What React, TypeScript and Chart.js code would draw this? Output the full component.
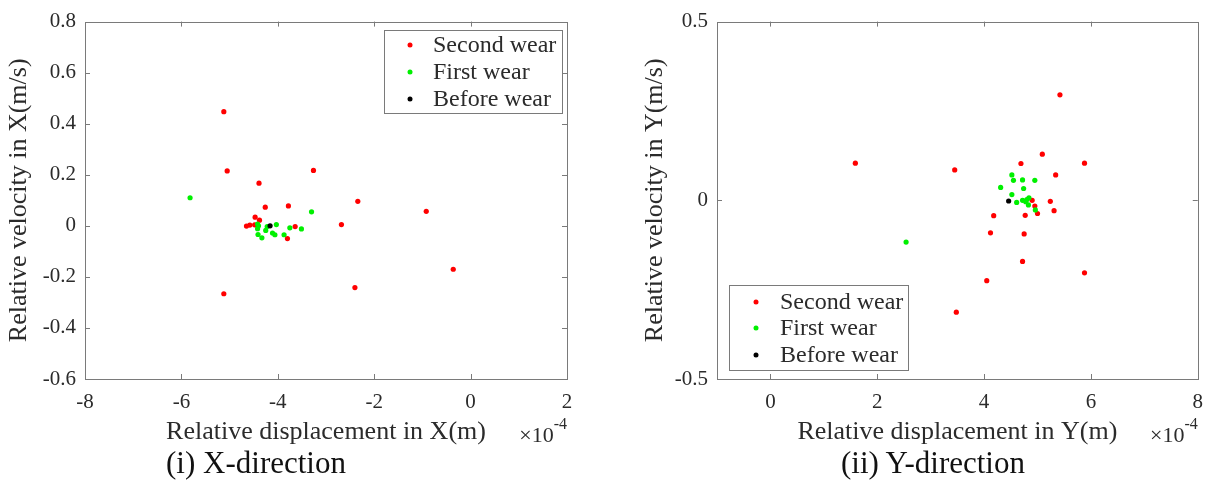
import React, { useEffect, useRef } from "react";
import { Chart, registerables } from "chart.js";

Chart.register(...registerables);

// ---------- Data (displacement in ×10^-4 m, velocity in m/s) ----------
const SERIES_LABELS = ["Second wear", "First wear", "Before wear"];
const SERIES_COLORS = ["#ff0000", "#00f000", "#000000"];

// (i) X-direction
const X_SECOND_DISP = [-5.12, -5.05, -3.26, -4.39, -2.34, -4.26, -3.78, -4.47, -4.38, -4.65, -4.58, -4.48, -3.64, -3.8, -2.68, -5.12, -2.4, -0.92, -0.36];
const X_SECOND_VEL = [0.447, 0.215, 0.217, 0.167, 0.096, 0.073, 0.078, 0.034, 0.022, -0.001, 0.003, 0.004, -0.003, -0.05, 0.005, -0.266, -0.242, 0.057, -0.17];
const X_FIRST_DISP = [-5.82, -3.3, -4.42, -4.4, -4.42, -4.22, -4.25, -4.03, -3.75, -3.51, -4.41, -4.33, -4.11, -4.06, -3.87];
const X_FIRST_VEL = [0.11, 0.055, 0.007, 0.0, -0.011, -0.003, -0.018, 0.005, -0.008, -0.012, -0.034, -0.047, -0.028, -0.035, -0.035];
const X_BEFORE_DISP = [-4.16];
const X_BEFORE_VEL = [0.0];

// (ii) Y-direction
const Y_SECOND_DISP = [5.42, 5.09, 4.69, 5.88, 3.45, 5.34, 4.9, 5.24, 4.95, 5.31, 5.0, 4.77, 4.18, 4.12, 4.75, 4.72, 5.88, 4.05, 3.48, 1.59];
const Y_SECOND_VEL = [0.295, 0.129, 0.103, 0.104, 0.085, 0.071, 0.0, -0.003, -0.016, -0.029, -0.037, -0.042, -0.043, -0.091, -0.094, -0.171, -0.203, -0.225, -0.313, 0.104];
const Y_FIRST_DISP = [4.52, 4.55, 4.72, 4.95, 4.31, 4.74, 4.52, 4.61, 4.72, 4.8, 4.84, 4.78, 4.83, 4.96, 2.54];
const Y_FIRST_VEL = [0.071, 0.056, 0.057, 0.056, 0.036, 0.033, 0.016, -0.006, 0.0, 0.002, 0.007, -0.004, -0.013, -0.027, -0.117];
const Y_BEFORE_DISP = [4.46];
const Y_BEFORE_VEL = [-0.002];

// Axes
const X_DIR_XTICKS = [-8, -6, -4, -2, 0, 2];
const X_DIR_YTICKS = [0.8, 0.6, 0.4, 0.2, 0, -0.2, -0.4, -0.6];
const Y_DIR_XTICKS = [0, 2, 4, 6, 8];
const Y_DIR_YTICKS = [0.5, 0, -0.5];

const FONT = '"Liberation Serif", "Times New Roman", serif';
const TEXT = "#2b2b2b";
const FRAME = "#7a7a7a";

const pts = (xs: number[], ys: number[]) => xs.map((x, i) => ({ x, y: ys[i] }));

type Panel = {
  left: number;
  width: number;
  height: number;
  yWidth: number;
  padRight: number;
  yTitlePad: number;
  xMin: number;
  xMax: number;
  yMin: number;
  yMax: number;
  xTicks: number[];
  yTicks: number[];
  xTitle: string;
  yTitle: string;
  series: [number[], number[]][];
  legend: { x: number; y: number; w: number; h: number; rowY: number[]; dotX: number; textX: number };
  caption: string;
  captionCenter: number;
};

const fmt = (v: number) => String(Math.round(v * 10) / 10);

function makePlugin(p: Panel) {
  return {
    id: "matlabFrame",
    afterDraw(chart: any) {
      const { ctx, chartArea } = chart;
      const { left, right, top, bottom } = chartArea;
      const xs = chart.scales.x;
      const ys = chart.scales.y;
      ctx.save();
      ctx.strokeStyle = FRAME;
      ctx.lineWidth = 1;
      ctx.strokeRect(Math.round(left) + 0.5, Math.round(top) + 0.5, Math.round(right - left), Math.round(bottom - top));
      const tl = 5;
      ctx.beginPath();
      xs.ticks.forEach((t: any) => {
        const px = Math.round(xs.getPixelForValue(t.value)) + 0.5;
        if (px <= left + 1 || px >= right - 1) return;
        ctx.moveTo(px, bottom);
        ctx.lineTo(px, bottom - tl);
        ctx.moveTo(px, top);
        ctx.lineTo(px, top + tl);
      });
      ys.ticks.forEach((t: any) => {
        const py = Math.round(ys.getPixelForValue(t.value)) + 0.5;
        if (py <= top + 1 || py >= bottom - 1) return;
        ctx.moveTo(left, py);
        ctx.lineTo(left + tl, py);
        ctx.moveTo(right, py);
        ctx.lineTo(right - tl, py);
      });
      ctx.stroke();

      // exponent label
      ctx.fillStyle = TEXT;
      ctx.textBaseline = "alphabetic";
      ctx.textAlign = "left";
      ctx.font = `22px ${FONT}`;
      const baseW = ctx.measureText("\u00d710").width;
      ctx.font = `16px ${FONT}`;
      const supW = ctx.measureText("-4").width;
      const ex = right - baseW - supW;
      ctx.font = `22px ${FONT}`;
      ctx.fillText("\u00d710", ex, 442);
      ctx.font = `16px ${FONT}`;
      ctx.fillText("-4", ex + baseW, 429);

      // legend
      const L = p.legend;
      ctx.fillStyle = "#ffffff";
      ctx.fillRect(L.x, L.y, L.w, L.h);
      ctx.strokeStyle = FRAME;
      ctx.strokeRect(L.x + 0.5, L.y + 0.5, L.w, L.h);
      ctx.font = `24px ${FONT}`;
      ctx.textBaseline = "middle";
      chart.data.datasets.forEach((ds: any, i: number) => {
        const ry = L.rowY[i];
        ctx.fillStyle = ds.backgroundColor;
        ctx.beginPath();
        ctx.arc(L.dotX, ry, 2.5, 0, Math.PI * 2);
        ctx.fill();
        ctx.fillStyle = TEXT;
        ctx.fillText(ds.label, L.textX, ry + 1);
      });
      ctx.restore();
    },
  };
}

function ScatterPanel({ p }: { p: Panel }) {
  const ref = useRef<HTMLCanvasElement | null>(null);
  useEffect(() => {
    if (!ref.current) return;
    const datasets = p.series.map(([xs, ys], i) => ({
      label: SERIES_LABELS[i],
      data: pts(xs, ys),
      backgroundColor: SERIES_COLORS[i],
      borderColor: SERIES_COLORS[i],
      pointRadius: 2.6,
      pointBorderWidth: 0,
      order: 3 - i,
    }));
    const tickFont = { family: FONT, size: 21 };
    const titleFont = { family: FONT, size: 26 };
    const chart = new Chart(ref.current, {
      type: "scatter",
      data: { datasets },
      options: {
        animation: false,
        responsive: false,
        maintainAspectRatio: false,
        layout: { padding: { left: 0, top: 20, right: p.padRight, bottom: 0 } },
        plugins: { legend: { display: false }, tooltip: { enabled: false } },
        scales: {
          x: {
            type: "linear",
            min: p.xMin,
            max: p.xMax,
            grid: { display: false, drawTicks: false, tickLength: 0 },
            border: { display: false },
            afterBuildTicks: (s: any) => {
              s.ticks = p.xTicks.map((v) => ({ value: v }));
            },
            afterFit: (s: any) => {
              s.height = p.height - 379;
            },
            ticks: { color: TEXT, font: tickFont, padding: 11, maxRotation: 0, autoSkip: false, callback: (v: any) => fmt(Number(v)) },
            title: { display: true, text: p.xTitle, color: TEXT, font: titleFont, padding: { top: 0, bottom: 2 } },
          },
          y: {
            type: "linear",
            min: p.yMin,
            max: p.yMax,
            grid: { display: false, drawTicks: false, tickLength: 0 },
            border: { display: false },
            afterBuildTicks: (s: any) => {
              s.ticks = p.yTicks.map((v) => ({ value: v }));
            },
            afterFit: (s: any) => {
              s.width = p.yWidth;
            },
            ticks: { color: TEXT, font: tickFont, padding: 9, autoSkip: false, callback: (v: any) => fmt(Number(v)) },
            title: { display: true, text: p.yTitle, color: TEXT, font: titleFont, padding: { top: p.yTitlePad, bottom: 0 } },
          },
        },
      },
      plugins: [makePlugin(p)],
    } as any);
    return () => chart.destroy();
  }, [p]);
  return (
    <>
      <canvas
        ref={ref}
        width={p.width}
        height={p.height}
        style={{ position: "absolute", left: p.left, top: 0, width: p.width, height: p.height }}
      />
      <div
        style={{
          position: "absolute",
          left: p.captionCenter - 200,
          width: 400,
          top: 446,
          textAlign: "center",
          font: `31px ${FONT}`,
          lineHeight: "34px",
          color: "#111",
        }}
      >
        {p.caption}
      </div>
    </>
  );
}

const PANEL_X: Panel = {
  left: 0,
  width: 600,
  height: 450,
  yWidth: 85,
  padRight: 33,
  yTitlePad: 4,
  xMin: -8,
  xMax: 2,
  yMin: -0.6,
  yMax: 0.8,
  xTicks: X_DIR_XTICKS,
  yTicks: X_DIR_YTICKS,
  xTitle: "Relative displacement in X(m)",
  yTitle: "Relative velocity in X(m/s)",
  series: [
    [X_SECOND_DISP, X_SECOND_VEL],
    [X_FIRST_DISP, X_FIRST_VEL],
    [X_BEFORE_DISP, X_BEFORE_VEL],
  ],
  legend: { x: 384, y: 30, w: 178, h: 83, rowY: [45, 72, 99], dotX: 410, textX: 433 },
  caption: "(i) X-direction",
  captionCenter: 256,
};

const PANEL_Y: Panel = {
  left: 620,
  width: 594,
  height: 450,
  yWidth: 97,
  padRight: 14,
  yTitlePad: 20,
  xMin: -1,
  xMax: 8,
  yMin: -0.5,
  yMax: 0.5,
  xTicks: Y_DIR_XTICKS,
  yTicks: Y_DIR_YTICKS,
  xTitle: "Relative displacement in Y(m)",
  yTitle: "Relative velocity in Y(m/s)",
  series: [
    [Y_SECOND_DISP, Y_SECOND_VEL],
    [Y_FIRST_DISP, Y_FIRST_VEL],
    [Y_BEFORE_DISP, Y_BEFORE_VEL],
  ],
  legend: { x: 109, y: 285, w: 179, h: 85, rowY: [302, 328, 355], dotX: 136, textX: 160 },
  caption: "(ii) Y-direction",
  captionCenter: 933,
};

export default function App() {
  return (
    <div style={{ position: "absolute", left: 0, top: 0, width: 1214, height: 484, background: "#fff" }}>
      <ScatterPanel p={PANEL_X} />
      <ScatterPanel p={PANEL_Y} />
    </div>
  );
}
